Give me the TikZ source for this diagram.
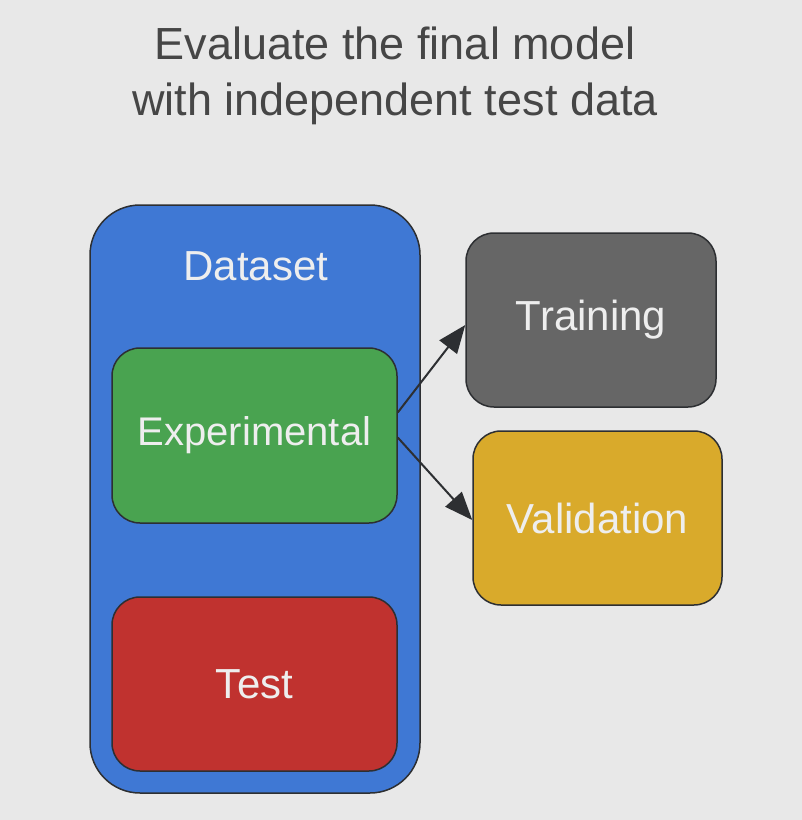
\documentclass[tikz,border=0pt]{standalone}
\usepackage{fontspec}
\setmainfont{Liberation Sans}
\usetikzlibrary{arrows.meta,positioning}
\definecolor{bgGrey}{RGB}{232,232,232}
\definecolor{inkTitle}{RGB}{70,70,70}
\definecolor{inkEdge}{RGB}{45,47,50}
\definecolor{inkLabel}{RGB}{238,238,238}
\definecolor{setBlue}{RGB}{63,120,212}
\definecolor{expGreen}{RGB}{73,163,80}
\definecolor{testRed}{RGB}{192,50,47}
\definecolor{trainGrey}{RGB}{102,102,102}
\definecolor{valGold}{RGB}{217,170,43}

\begin{document}
\begin{tikzpicture}[x=1pt,y=-1pt,
  part/.style={draw=inkEdge,line width=1.5pt,rounded corners=28pt,inner sep=0pt,
               minimum width=285pt,minimum height=175pt,text=inkLabel,
               font=\fontsize{42}{48}\selectfont,fill=#1},
  split/.style={inkEdge,line width=2pt,-{Triangle[length=28pt,width=22pt]}}]
  \fill[bgGrey] (0,0) rectangle (802,820);
  \node[align=center,text=inkTitle,font=\fontsize{45}{56}\selectfont] (title) at (395,76)
    {Evaluate the final model\\with independent test data};
  % dataset container with its two parts
  \node[part=setBlue,rounded corners=50pt,minimum width=330pt,minimum height=588pt] (dataset) at (255,499) {};
  \node[text=inkLabel,font=\fontsize{42}{48}\selectfont] (dslabel) at (256,266) {Dataset};
  \node[part=expGreen,font=\fontsize{40}{48}\selectfont] (exp) at (254.5,435.5) {Experimental};
  \node[part=testRed,minimum height=174pt] (test) at (254.5,684) {Test};
  % the experimental part is split further
  \node[part=trainGrey,minimum width=250pt,minimum height=174pt] (train) at (591,320) {Training};
  \node[part=valGold,minimum width=249pt,minimum height=174pt] (val) at (597.5,518) {Validation};
  \draw[split] ([yshift=23pt]exp.east) -- ([yshift=-5pt]train.west);
  \draw[split] ([yshift=-2pt]exp.east) -- ([yshift=-2pt]val.west);
\end{tikzpicture}
\end{document}
